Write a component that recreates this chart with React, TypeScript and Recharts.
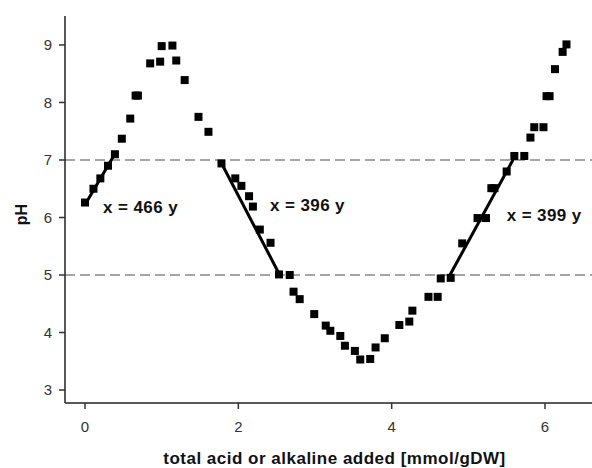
import React from 'react';
import { ComposedChart, Scatter, XAxis, YAxis, ReferenceLine, ReferenceDot } from 'recharts';

const acidAdded = [
  0.0, 0.11, 0.2, 0.3, 0.39, 0.48, 0.59, 0.66, 0.69, 0.85, 0.98, 1.0, 1.14, 1.19, 1.3, 1.48, 1.61,
  1.78, 1.96, 2.04, 2.14, 2.19, 2.28, 2.42, 2.53, 2.67, 2.72, 2.8, 2.99, 3.14, 3.2, 3.33, 3.39, 3.52,
  3.59, 3.72, 3.79, 3.91, 4.1, 4.23, 4.27, 4.48, 4.6, 4.64, 4.77, 4.92, 5.12, 5.23, 5.3, 5.34, 5.5,
  5.6, 5.73, 5.81, 5.86, 5.98, 6.02, 6.06, 6.13, 6.23, 6.28,
];
const pHValues = [
  6.26, 6.5, 6.68, 6.9, 7.1, 7.37, 7.72, 8.12, 8.12, 8.68, 8.71, 8.98, 8.99, 8.73, 8.39, 7.75, 7.49,
  6.94, 6.68, 6.55, 6.37, 6.19, 5.79, 5.56, 5.01, 5.0, 4.71, 4.58, 4.32, 4.12, 4.03, 3.94, 3.77, 3.68,
  3.53, 3.54, 3.74, 3.9, 4.13, 4.19, 4.38, 4.62, 4.62, 4.94, 4.95, 5.55, 5.99, 5.99, 6.51, 6.51, 6.8,
  7.07, 7.07, 7.39, 7.57, 7.57, 8.11, 8.11, 8.58, 8.88, 9.01,
];

const xTicks = [0, 2, 4, 6];
const yTicks = [3, 4, 5, 6, 7, 8, 9];
const xDomain = [-0.261, 6.613];
const yDomain = [2.774, 9.504];
const thresholdLines = [7, 5];

const fitStartX = [0.0, 1.77, 4.76];
const fitStartY = [6.22, 6.97, 5.0];
const fitEndX = [0.4, 2.54, 5.61];
const fitEndY = [7.13, 5.0, 7.07];

const annotationText = ['x = 466 y', 'x = 396 y', 'x = 399 y'];
const annotationX = [0.235, 2.413, 5.5];
const annotationY = [6.078, 6.113, 5.939];

const xTitle = 'total acid or alkaline added [mmol/gDW]';
const yTitle = 'pH';

const FONT = '"Liberation Sans", Arial, Helvetica, sans-serif';

const points = acidAdded.map((x, i) => ({ x, pH: pHValues[i] }));

const Square = (p: any) => (
  <rect x={p.cx - 4} y={p.cy - 4} width={8} height={8} fill="#000" />
);

export default function App() {
  return (
    <div style={{ position: 'absolute', left: 0, top: 0, width: 592, height: 468, background: '#fff' }}>
      <ComposedChart width={592} height={468} margin={{ top: 16, right: 0, bottom: 0, left: 0 }}>
        <XAxis
          xAxisId="top"
          orientation="top"
          type="number"
          dataKey="x"
          domain={xDomain}
          allowDataOverflow
          height={0}
          tick={false}
          tickLine={false}
          axisLine={{ stroke: '#222', strokeWidth: 1.5 }}
        />
        <XAxis
          type="number"
          dataKey="x"
          domain={xDomain}
          ticks={xTicks}
          allowDataOverflow
          height={65}
          tickSize={6}
          tickMargin={12}
          tick={{ fill: '#333', fontSize: 15, fontFamily: FONT }}
          tickLine={{ stroke: '#333', strokeWidth: 1.5 }}
          axisLine={{ stroke: '#222', strokeWidth: 1.5 }}
          label={{
            content: (props: any) => {
              const vb = props.viewBox;
              return (
                <text
                  x={vb.x + vb.width / 2 + 6}
                  y={vb.y + vb.height - 4}
                  textAnchor="middle"
                  fontFamily={FONT}
                  fontWeight="bold"
                  fontSize={17}
                  letterSpacing={0.5}
                  fill="#111"
                >
                  {xTitle}
                </text>
              );
            },
          }}
        />
        <YAxis
          type="number"
          domain={yDomain}
          ticks={yTicks}
          allowDataOverflow
          width={65}
          tickSize={6}
          tickMargin={7}
          tick={{ fill: '#333', fontSize: 15, fontFamily: FONT }}
          tickLine={{ stroke: '#333', strokeWidth: 1.5 }}
          axisLine={{ stroke: '#222', strokeWidth: 1.5 }}
          label={{
            content: (props: any) => {
              const vb = props.viewBox;
              const cx = 27;
              const cy = vb.y + vb.height / 2 + 5;
              return (
                <text
                  x={cx}
                  y={cy}
                  transform={`rotate(-90 ${cx} ${cy})`}
                  textAnchor="middle"
                  fontFamily={FONT}
                  fontWeight="bold"
                  fontSize={16}
                  fill="#111"
                >
                  {yTitle}
                </text>
              );
            },
          }}
        />
        {thresholdLines.map((v) => (
          <ReferenceLine key={v} y={v} stroke="#888" strokeWidth={1.5} strokeDasharray="10 5" />
        ))}
        {fitStartX.map((x0, i) => (
          <ReferenceLine
            key={`fit${i}`}
            segment={[
              { x: x0, y: fitStartY[i] },
              { x: fitEndX[i], y: fitEndY[i] },
            ]}
            stroke="#000"
            strokeWidth={3}
          />
        ))}
        <Scatter data={points} dataKey="pH" shape={Square} isAnimationActive={false} />
        {annotationText.map((t, i) => (
          <ReferenceDot
            key={t}
            x={annotationX[i]}
            y={annotationY[i]}
            r={1}
            shape={(p: any) => (
              <text
                x={p.cx}
                y={p.cy}
                fontFamily={FONT}
                fontWeight="bold"
                fontSize={17}
                letterSpacing={0.4}
                fill="#111"
              >
                {t}
              </text>
            )}
          />
        ))}
      </ComposedChart>
    </div>
  );
}
